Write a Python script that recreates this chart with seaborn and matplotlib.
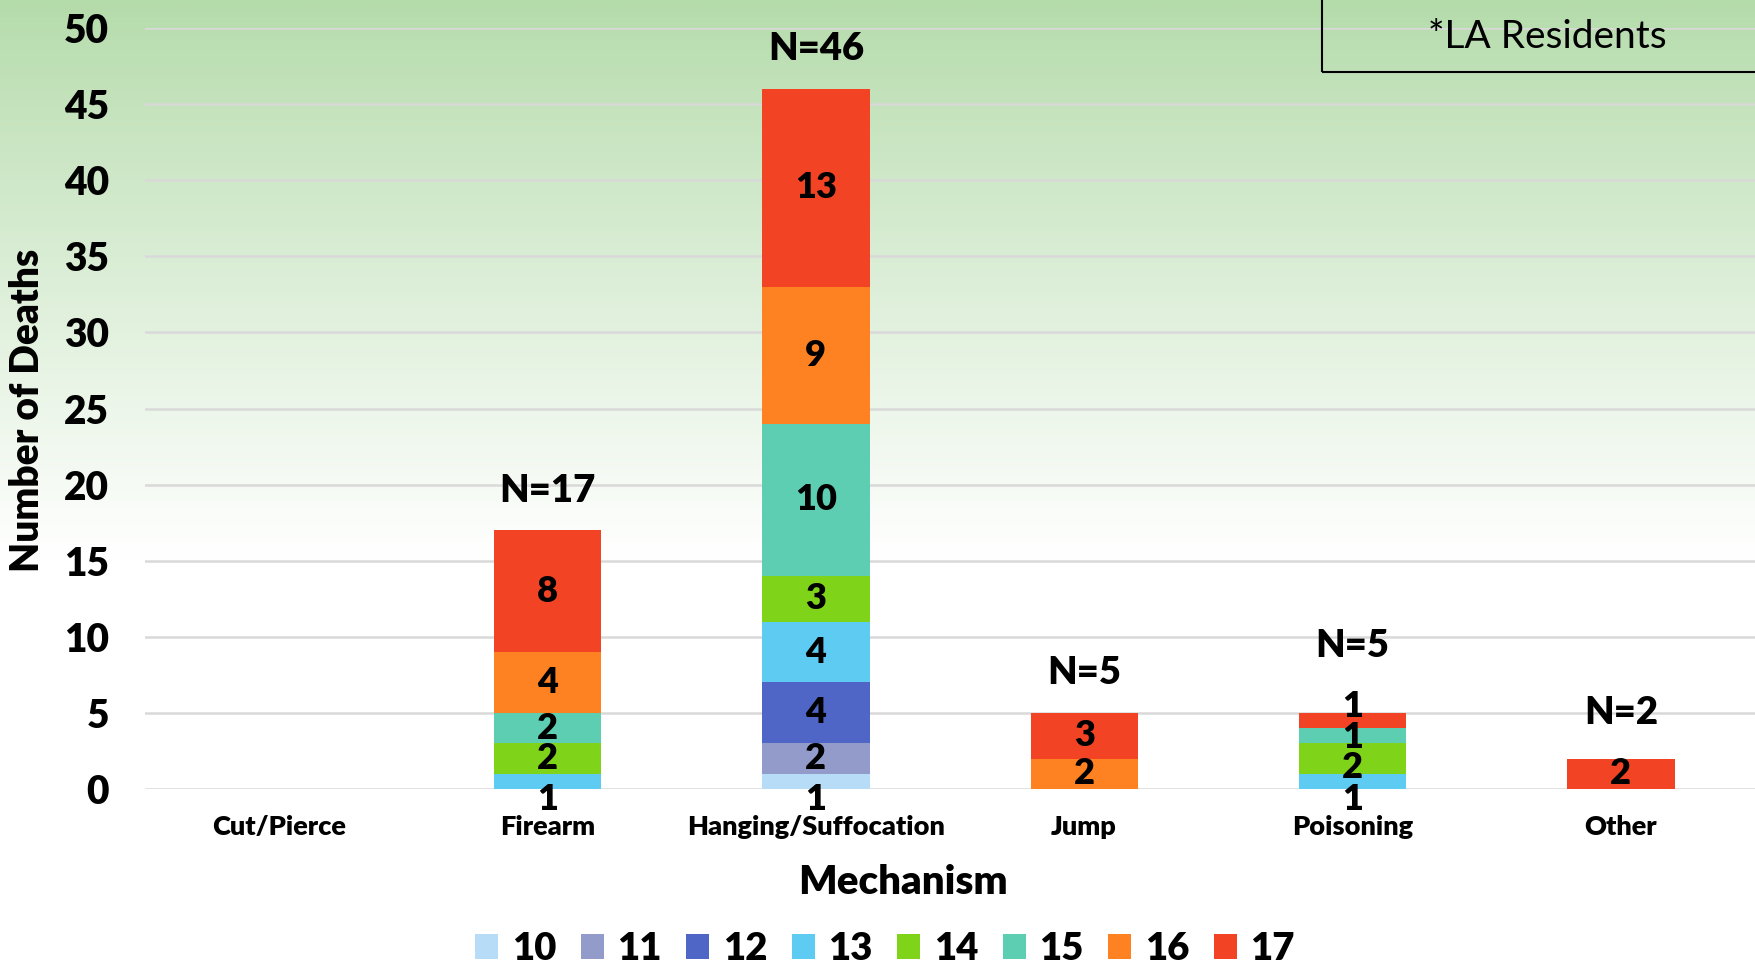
import numpy as np
import pandas as pd
import matplotlib
matplotlib.use("Agg")
import matplotlib.pyplot as plt
from matplotlib.patches import Patch, Rectangle
import seaborn as sns

mechanisms = ["Cut/Pierce", "Firearm", "Hanging/Suffocation", "Jump", "Poisoning", "Other"]
ages = ["10", "11", "12", "13", "14", "15", "16", "17"]
age_10 = [0, 0, 1, 0, 0, 0]
age_11 = [0, 0, 2, 0, 0, 0]
age_12 = [0, 0, 4, 0, 0, 0]
age_13 = [0, 1, 4, 0, 1, 0]
age_14 = [0, 2, 3, 0, 2, 0]
age_15 = [0, 2, 10, 0, 1, 0]
age_16 = [0, 4, 9, 2, 0, 0]
age_17 = [0, 8, 13, 3, 1, 2]
colors = ["#b7dcf7", "#939bcb", "#4f66c7", "#5ecbf3", "#7fd318", "#5dceb2", "#fe8122", "#f24324"]

df = pd.DataFrame([age_10, age_11, age_12, age_13, age_14, age_15, age_16, age_17],
                  index=ages, columns=mechanisms)
cum = df.cumsum()
totals = df.sum()

sns.set_style("white")
plt.rcParams['font.family'] = ['Lato', 'DejaVu Sans']
plt.rcParams['text.color'] = 'black'
plt.rcParams['xtick.color'] = 'black'
plt.rcParams['ytick.color'] = 'black'

fig = plt.figure(figsize=(17.55, 9.66), dpi=100)

# green gradient background
bg = fig.add_axes([0, 0, 1, 1], zorder=-10)
h = 500
t = np.linspace(0, 1, h)
fade = np.clip(t / 0.58, 0, 1) ** 0.9
top = np.array([180, 219, 170]) / 255
grad = top[None, :] * (1 - fade[:, None]) + 1.0 * fade[:, None]
bg.imshow(grad[:, None, :], aspect='auto', extent=[0, 1, 0, 1])
bg.axis('off')

ax = fig.add_axes([145 / 1755, 1 - 789 / 966, 1 - 145 / 1755, (789 - 28) / 966])
ax.set_facecolor('none')

# stacked bars: draw cumulative totals from the top layer down
for i in range(len(ages) - 1, -1, -1):
    sns.barplot(x=mechanisms, y=cum.iloc[i].values, color=colors[i], saturation=1,
                width=0.4, linewidth=0, ax=ax, zorder=3)

ax.set_ylim(0, 50)
ax.set_xlim(-0.5, 5.5)
ax.set_yticks(range(0, 51, 5))
ax.yaxis.grid(True, color='#d9d9d9', linewidth=1.8, zorder=0)
ax.set_axisbelow(True)
for s in ax.spines.values():
    s.set_visible(False)
ax.tick_params(axis='y', length=0, pad=26, labelsize=28)
ax.tick_params(axis='x', length=0, pad=19, labelsize=19.5)
for lb in ax.get_yticklabels() + ax.get_xticklabels():
    lb.set_fontweight('heavy')
ax.set_xlabel("")
ax.set_ylabel("")

# segment labels, spread so they don't overlap
gap = 2.0
for j, m in enumerate(mechanisms):
    vals = df[m].values
    idx = [i for i in range(len(ages)) if vals[i] > 0]
    if not idx:
        continue
    centers = [cum[m].values[i] - vals[i] / 2 for i in idx]
    pos = list(centers)
    for k in range(len(pos) - 2, -1, -1):
        pos[k] = min(pos[k], pos[k + 1] - gap)
    if pos[0] < -0.6:
        shift = -0.6 - pos[0]
        pos = [p + shift for p in pos]
    if vals[idx[0]] < 2:
        pos[0] = -0.7
    for k, i in enumerate(idx):
        ax.text(j, pos[k], str(vals[i]), ha='center', va='center', fontsize=26,
                fontweight='heavy', zorder=5, clip_on=False)
    ny = max(totals[m] + 2.6, pos[-1] + 4.0)
    ax.text(j, ny, f"N={totals[m]}", ha='center', va='center', fontsize=27.5,
            fontweight='heavy', zorder=5)

fig.text(28 / 1755, 1 - 410 / 966, "Number of Deaths", rotation=90, ha='center',
         va='center', fontsize=28, fontweight='heavy')
fig.text(903 / 1755, 1 - 883 / 966, "Mechanism", ha='center', va='center',
         fontsize=29, fontweight='heavy')

handles = [Patch(facecolor=c, edgecolor='none', label=a) for a, c in zip(ages, colors)]
fig.legend(handles=handles, loc='center', bbox_to_anchor=(885 / 1755, 1 - 949 / 966),
           ncol=8, frameon=False, prop={'weight': 'heavy', 'size': 27.5},
           handlelength=0.6, handleheight=0.6, handletextpad=0.35, columnspacing=0.65)

fig.add_artist(Rectangle((1322 / 1755, 1 - 72 / 966), 0.3, 0.2, transform=fig.transFigure,
                         facecolor='none', edgecolor='black', linewidth=1.5))
fig.text(1547 / 1755, 1 - 37 / 966, "*LA Residents", ha='center', va='center', fontsize=28)

fig.savefig("out.png", dpi=100)
